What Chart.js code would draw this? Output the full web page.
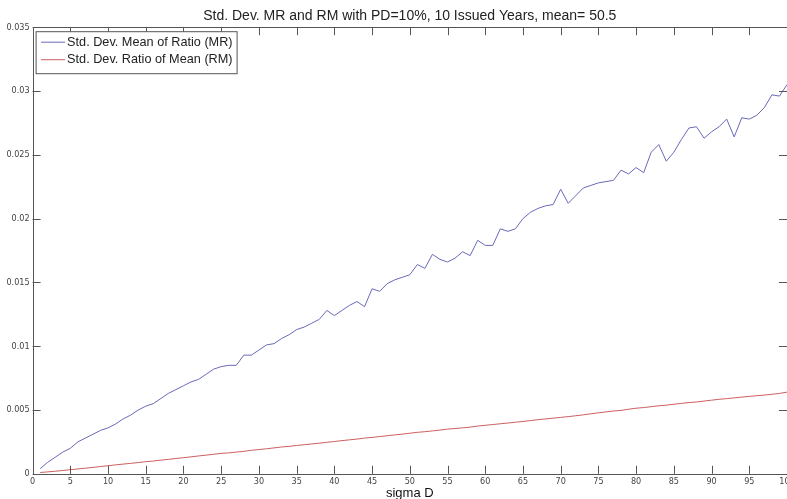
<!DOCTYPE html>
<html>
<head>
<meta charset="utf-8">
<script src="https://cdn.jsdelivr.net/npm/chart.js@4"></script>
<style>
  html, body { margin: 0; padding: 0; background: #fff; overflow: hidden; }
</style>
</head>
<body>
<canvas id="myChart" width="810" height="499"></canvas>
<script>
// sigma D values on the x axis
const sigmaD = [
  1, 2, 3, 4, 5, 6, 7, 8, 9, 10, 11, 12, 13, 14, 15, 16, 17, 18, 19, 20,
  21, 22, 23, 24, 25, 26, 27, 28, 29, 30, 31, 32, 33, 34, 35, 36, 37, 38, 39, 40,
  41, 42, 43, 44, 45, 46, 47, 48, 49, 50, 51, 52, 53, 54, 55, 56, 57, 58, 59, 60,
  61, 62, 63, 64, 65, 66, 67, 68, 69, 70, 71, 72, 73, 74, 75, 76, 77, 78, 79, 80,
  81, 82, 83, 84, 85, 86, 87, 88, 89, 90, 91, 92, 93, 94, 95, 96, 97, 98, 99, 100
]

// Std. Dev. Mean of Ratio (MR)
const meanOfRatio = [
  0.0004, 0.0009, 0.0013, 0.0017, 0.0020, 0.0025, 0.0028, 0.0031, 0.0034, 0.0036,
  0.0039, 0.0043, 0.0046, 0.0050, 0.0053, 0.0055, 0.0059, 0.0063, 0.0066, 0.0069,
  0.0072, 0.0074, 0.0078, 0.0082, 0.0084, 0.0085, 0.0085, 0.0093, 0.0093, 0.0097,
  0.0101, 0.0102, 0.0106, 0.0109, 0.0113, 0.0115, 0.0118, 0.0121, 0.0128, 0.0124,
  0.0128, 0.0132, 0.0135, 0.0131, 0.0145, 0.0143, 0.0149, 0.0152, 0.0154, 0.0156,
  0.0164, 0.0161, 0.0172, 0.0168, 0.0166, 0.0169, 0.0174, 0.0171, 0.0183, 0.0179,
  0.0179, 0.0192, 0.0190, 0.0192, 0.0200, 0.0205, 0.0208, 0.0210, 0.0211, 0.0223,
  0.0212, 0.0218, 0.0224, 0.0226, 0.0228, 0.0229, 0.0230, 0.0238, 0.0235, 0.0240,
  0.0236, 0.0252, 0.0258, 0.0245, 0.0252, 0.0262, 0.0271, 0.0272, 0.0263, 0.0268,
  0.0272, 0.0278, 0.0264, 0.0279, 0.0278, 0.0281, 0.0287, 0.0297, 0.0296, 0.0305
]

// Std. Dev. Ratio of Mean (RM)
const ratioOfMean = [
  0.00010, 0.00015, 0.00020, 0.00026, 0.00032, 0.00038, 0.00044, 0.00050, 0.00057, 0.00063,
  0.00070, 0.00076, 0.00082, 0.00088, 0.00095, 0.00100, 0.00107, 0.00113, 0.00120, 0.00126,
  0.00133, 0.00140, 0.00146, 0.00153, 0.00160, 0.00164, 0.00170, 0.00176, 0.00184, 0.00190,
  0.00196, 0.00203, 0.00210, 0.00215, 0.00222, 0.00228, 0.00234, 0.00240, 0.00247, 0.00253,
  0.00260, 0.00266, 0.00272, 0.00280, 0.00285, 0.00292, 0.00298, 0.00305, 0.00311, 0.00318,
  0.00325, 0.00330, 0.00336, 0.00343, 0.00350, 0.00355, 0.00360, 0.00366, 0.00374, 0.00380,
  0.00386, 0.00392, 0.00398, 0.00404, 0.00410, 0.00417, 0.00424, 0.00430, 0.00436, 0.00442,
  0.00448, 0.00455, 0.00462, 0.00470, 0.00478, 0.00485, 0.00492, 0.00497, 0.00506, 0.00514,
  0.00519, 0.00526, 0.00533, 0.00538, 0.00545, 0.00552, 0.00558, 0.00563, 0.00570, 0.00577,
  0.00584, 0.00589, 0.00595, 0.00601, 0.00607, 0.00612, 0.00617, 0.00623, 0.00630, 0.00640
]

const yTicks = [0, 0.005, 0.01, 0.015, 0.02, 0.025, 0.03, 0.035]

const axisColor = '#555'
const tickFont = { family: "'Liberation Sans Narrow', 'DejaVu Sans Condensed', 'Liberation Sans', Arial", size: 9 }

// matlab style box with ticks pointing inwards
const boxTicks = {
  id: 'boxTicks',
  afterDraw(chart) {
    const { ctx, chartArea: a, scales } = chart
    ctx.save()
    ctx.strokeStyle = axisColor
    ctx.lineWidth = 1
    ctx.beginPath()
    scales.x.ticks.forEach(t => {
      const px = Math.round(scales.x.getPixelForValue(t.value)) + 0.5
      ctx.moveTo(px, a.bottom); ctx.lineTo(px, a.bottom - 8)
      ctx.moveTo(px, a.top); ctx.lineTo(px, a.top + 8)
    })
    scales.y.ticks.forEach(t => {
      const py = Math.round(scales.y.getPixelForValue(t.value)) + 0.5
      ctx.moveTo(a.left, py); ctx.lineTo(a.left + 8, py)
      ctx.moveTo(a.right, py); ctx.lineTo(a.right - 8, py)
    })
    ctx.stroke()
    ctx.strokeRect(Math.round(a.left) + 0.5, Math.round(a.top) + 0.5,
      Math.round(a.right - a.left), Math.round(a.bottom - a.top))
    ctx.restore()
  }
}

// legend box in the upper left corner of the axes
const boxLegend = {
  id: 'boxLegend',
  afterDraw(chart) {
    const { ctx, chartArea: a } = chart
    const left = a.left + 3.5, top = a.top + 4.5
    ctx.save()
    ctx.fillStyle = '#fff'
    ctx.fillRect(left, top, 201, 42)
    ctx.strokeStyle = axisColor
    ctx.lineWidth = 1
    ctx.strokeRect(left, top, 201, 42)
    ctx.font = "12.7px 'Liberation Sans', Arial"
    ctx.textBaseline = 'middle'
    chart.data.datasets.forEach((ds, i) => {
      const y = top + 10.5 + i * 17.5
      ctx.strokeStyle = ds.borderColor
      ctx.beginPath()
      ctx.moveTo(left + 5, y); ctx.lineTo(left + 29, y)
      ctx.stroke()
      ctx.fillStyle = '#222'
      ctx.fillText(ds.label, left + 31, y)
    })
    ctx.restore()
  }
}

const ctx = document.getElementById('myChart').getContext('2d')
const chart = new Chart(ctx, {
  type: 'line',
  data: {
    datasets: [{
      label: 'Std. Dev. Mean of Ratio (MR)',
      borderColor: 'rgb(105,105,185)',
      data: sigmaD.map((x, i) => ({ x: x, y: meanOfRatio[i] }))
    }, {
      label: 'Std. Dev. Ratio of Mean (RM)',
      borderColor: 'rgb(205,95,95)',
      data: sigmaD.map((x, i) => ({ x: x, y: ratioOfMean[i] }))
    }]
  },
  options: {
    responsive: false,
    animation: false,
    layout: { padding: { left: 0, right: 23, top: 0, bottom: 0 } },
    elements: {
      point: { radius: 0 },
      line: { borderWidth: 1, tension: 0 }
    },
    scales: {
      x: {
        type: 'linear',
        min: 0,
        max: 100,
        grid: { display: false, drawTicks: false },
        border: { display: false },
        ticks: { stepSize: 5, padding: 2, color: '#444', font: tickFont, maxRotation: 0, autoSkip: false },
        title: {
          display: true,
          text: 'sigma D',
          color: '#111',
          font: { family: "'Liberation Sans', Arial", size: 13, lineHeight: 0.8 },
          padding: 0
        },
        afterFit: s => { s.height = 25.2 }
      },
      y: {
        min: 0,
        max: 0.035,
        grid: { display: false, drawTicks: false },
        border: { display: false },
        afterBuildTicks: s => { s.ticks = yTicks.map(v => ({ value: v })) },
        ticks: {
          padding: 3,
          color: '#444',
          font: tickFont,
          callback: v => String(+v.toFixed(3))
        },
        afterFit: s => { s.width = 32.6 }
      }
    },
    plugins: {
      legend: { display: false },
      tooltip: { enabled: false },
      title: {
        display: true,
        fullSize: false,
        text: 'Std. Dev. MR and RM with PD=10%, 10 Issued Years, mean= 50.5',
        color: '#222',
        font: { family: "'Liberation Sans', Arial", size: 14, weight: 'normal' },
        padding: { top: 7.6, bottom: 2.8 }
      }
    }
  },
  plugins: [boxTicks, boxLegend]
})
</script>
</body>
</html>
